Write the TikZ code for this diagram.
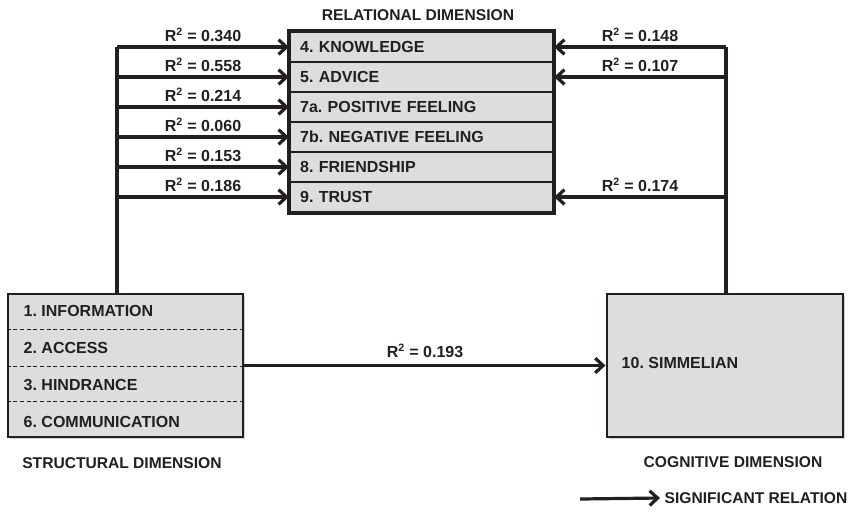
\documentclass[tikz,border=0pt]{standalone}
\usepackage{fontspec}
\setmainfont{Liberation Sans}
\usepackage{tikz}
\usetikzlibrary{arrows.meta, positioning, shadows}

\definecolor{ink}{RGB}{35,31,32}
\definecolor{boxgray}{RGB}{220,221,223}
\frenchspacing

\begin{document}
\begin{tikzpicture}[
    x=0.75pt, y=-0.75pt,
    every node/.style={font=\fontsize{12}{14}\selectfont\bfseries, text=ink},
    line/.style={draw=ink, line width=2.4pt},
    arr/.style={line, -{Straight Barb[length=6pt, width=11pt]}},
    relrow/.style={draw=ink, line width=1.6pt, fill=boxgray, minimum width=197.25pt, minimum height=22.5pt, text width=182pt, inner xsep=7.5pt, align=left},
    bigbox/.style={draw=ink, line width=2.2pt, fill=boxgray, drop shadow={shadow xshift=1.5pt, shadow yshift=-1.5pt, opacity=0.35}},
    rlab/.style={inner sep=1pt},
    title/.style={font=\fontsize{11.7}{14}\selectfont\bfseries}
]
\useasboundingbox (0,0) rectangle (854,512);

% Relational dimension
\node[title] (reltitle) at (418,15) {RELATIONAL DIMENSION};
\fill[black, opacity=0.3] (292,34) rectangle (556,214);
\node[relrow] (r1) at (421.5,47) {4. KNOWLEDGE};
\node[relrow] (r2) at (421.5,77) {5. ADVICE};
\node[relrow] (r3) at (421.5,107) {7a. POSITIVE FEELING};
\node[relrow] (r4) at (421.5,137) {7b. NEGATIVE FEELING};
\node[relrow] (r5) at (421.5,167) {8. FRIENDSHIP};
\node[relrow] (r6) at (421.5,197) {9. TRUST};
\draw[ink, line width=2.2pt] (r1.north west) rectangle (r6.south east);

% Structural dimension
\node[bigbox, minimum width=176.25pt, minimum height=107.25pt] (sbox) at (125.5,365.5) {};
\node[anchor=west] (s1) at (19,311) {1. INFORMATION};
\node[anchor=west] (s2) at (19,348) {2. ACCESS};
\node[anchor=west] (s3) at (19,385) {3. HINDRANCE};
\node[anchor=west] (s4) at (19,422) {6. COMMUNICATION};
\foreach \yy in {329,366,401}
  \draw[ink, line width=0.6pt, dash pattern=on 3pt off 2pt] (sbox.west |- 0,\yy) -- (sbox.east |- 0,\yy);
\node[title] (stitle) at (122,463) {STRUCTURAL DIMENSION};

% Cognitive dimension
\node[bigbox, minimum width=177pt, minimum height=107.25pt] (cbox) at (725,365.5) {};
\node[anchor=west] (c1) at (617,363) {10. SIMMELIAN};
\node[title] (ctitle) at (733,462) {COGNITIVE DIMENSION};

% Left trunk
\coordinate (lt) at (117,52);
\draw[line] (sbox.north -| lt) -- (lt |- r1);
\foreach \i/\v in {1/0.340, 2/0.558, 3/0.214, 4/0.060, 5/0.153, 6/0.186}
  \draw[arr] (lt |- r\i) -- node[rlab, above=2pt] {R\textsuperscript{2} = \v} (r\i.west);

% Right trunk
\coordinate (rt) at (726,52);
\draw[line] (cbox.north -| rt) -- (rt |- r1);
\foreach \i/\v in {1/0.148, 2/0.107, 6/0.174}
  \draw[arr] (rt |- r\i) -- node[rlab, above=2pt] {R\textsuperscript{2} = \v} (r\i.east);

% Structural to cognitive
\draw[arr] (sbox.east) -- node[rlab, above=4pt] {R\textsuperscript{2} = 0.193} (cbox.west);

% Legend
\coordinate (lg) at (580,499);
\node[anchor=west, title] (legtext) at (660,498) {SIGNIFICANT RELATION};
\draw[arr] (lg) -- (legtext.west);

\end{tikzpicture}
\end{document}
